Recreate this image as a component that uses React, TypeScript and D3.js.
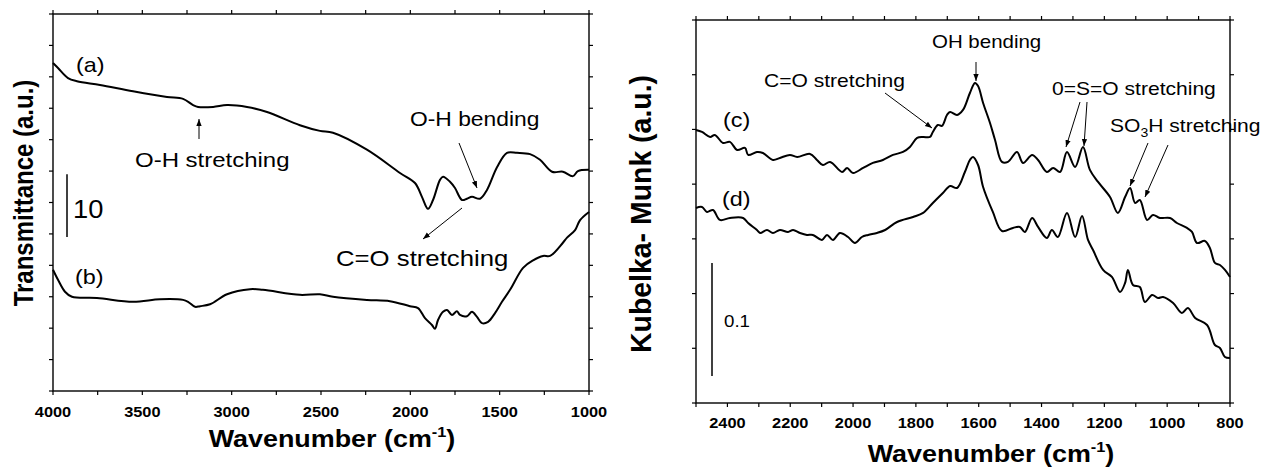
import React from "react";
import * as d3 from "d3";

// ---------- Left panel data: FTIR transmittance (a.u.) ----------
const wnA = [4000, 3972, 3916, 3866, 3737, 3552, 3362, 3272, 3216, 3188, 3104, 3026, 2914, 2802, 2618, 2506, 2433, 2243, 2058, 1974, 1935, 1901, 1873, 1834, 1817, 1778, 1750, 1711, 1683, 1655, 1610, 1571, 1515, 1459, 1403, 1330, 1274, 1207, 1146, 1090, 1062, 1000];
const tA = [52.2, 51.4, 49.8, 49.3, 48.7, 47.7, 46.8, 46.5, 45.5, 45.2, 45.2, 45.5, 45.2, 44.4, 42.3, 41.4, 41.1, 38.4, 34.7, 33.1, 30.9, 29.0, 30.4, 33.6, 34.1, 33.3, 32.3, 30.4, 30.6, 30.9, 30.6, 32.0, 35.6, 37.9, 37.9, 37.7, 36.8, 34.9, 34.9, 34.2, 35.0, 35.2];

const wnB = [4000, 3972, 3933, 3894, 3754, 3552, 3401, 3272, 3244, 3205, 3177, 3121, 3026, 2897, 2825, 2618, 2506, 2433, 2243, 2114, 2002, 1957, 1918, 1879, 1862, 1845, 1817, 1795, 1767, 1739, 1722, 1683, 1655, 1627, 1599, 1565, 1526, 1487, 1442, 1369, 1313, 1257, 1218, 1146, 1123, 1078, 1050, 1000];
const tB = [19.3, 17.7, 15.8, 15.0, 14.8, 14.2, 14.6, 14.5, 14.2, 13.4, 13.5, 13.8, 15.4, 16.2, 16.1, 15.3, 15.4, 15.0, 14.5, 14.3, 13.5, 13.2, 11.6, 10.5, 9.9, 11.3, 12.6, 12.9, 12.1, 12.7, 12.1, 11.9, 12.6, 11.8, 10.8, 11.0, 12.4, 14.2, 16.1, 19.6, 20.8, 21.5, 21.5, 23.6, 24.4, 25.6, 27.2, 28.5];

// ---------- Right panel data: Kubelka-Munk (a.u.) ----------
const wnC = [2500, 2481, 2455, 2440, 2414, 2392, 2369, 2344, 2334, 2306, 2287, 2255, 2233, 2201, 2178, 2137, 2115, 2096, 2073, 2035, 2019, 2000, 1968, 1937, 1905, 1873, 1841, 1819, 1796, 1777, 1755, 1746, 1730, 1717, 1701, 1691, 1669, 1650, 1628, 1612, 1602, 1586, 1564, 1548, 1526, 1507, 1478, 1459, 1430, 1411, 1383, 1363, 1341, 1319, 1293, 1268, 1246, 1220, 1182, 1157, 1134, 1118, 1102, 1087, 1064, 1045, 1023, 991, 969, 937, 921, 905, 880, 864, 848, 832, 816, 800];
const kmC = [0.2495, 0.2477, 0.2431, 0.2450, 0.2376, 0.2386, 0.2312, 0.2331, 0.2267, 0.2294, 0.2285, 0.2221, 0.2239, 0.2267, 0.2248, 0.2276, 0.2221, 0.2175, 0.2203, 0.2111, 0.2148, 0.2102, 0.2148, 0.2194, 0.2221, 0.2267, 0.2294, 0.2340, 0.2422, 0.2431, 0.2431, 0.2477, 0.2541, 0.2532, 0.2632, 0.2660, 0.2632, 0.2678, 0.2833, 0.2925, 0.2897, 0.2742, 0.2559, 0.2404, 0.2203, 0.2203, 0.2294, 0.2194, 0.2267, 0.2221, 0.2111, 0.2148, 0.2111, 0.2294, 0.2157, 0.2340, 0.2130, 0.2020, 0.1883, 0.1737, 0.1883, 0.1965, 0.1828, 0.1855, 0.1673, 0.1718, 0.1691, 0.1691, 0.1645, 0.1600, 0.1563, 0.1462, 0.1481, 0.1417, 0.1280, 0.1261, 0.1216, 0.1152];

const wnD = [2500, 2481, 2465, 2446, 2424, 2392, 2350, 2334, 2306, 2296, 2274, 2255, 2233, 2207, 2191, 2169, 2147, 2128, 2099, 2083, 2064, 2042, 2016, 1994, 1972, 1952, 1924, 1898, 1860, 1809, 1777, 1746, 1714, 1691, 1669, 1644, 1628, 1618, 1602, 1586, 1555, 1526, 1491, 1469, 1453, 1430, 1411, 1383, 1367, 1348, 1319, 1293, 1271, 1252, 1236, 1204, 1176, 1150, 1134, 1125, 1109, 1087, 1071, 1048, 1029, 1013, 981, 953, 934, 911, 873, 848, 832, 816, 800];
const kmD = [0.1782, 0.1791, 0.1746, 0.1764, 0.1673, 0.1691, 0.1691, 0.1645, 0.1581, 0.1554, 0.1581, 0.1554, 0.1581, 0.1563, 0.1581, 0.1554, 0.1536, 0.1536, 0.1490, 0.1536, 0.1490, 0.1554, 0.1517, 0.1462, 0.1517, 0.1536, 0.1554, 0.1581, 0.1654, 0.1700, 0.1737, 0.1828, 0.1919, 0.1983, 0.1965, 0.2111, 0.2221, 0.2248, 0.2175, 0.1974, 0.1746, 0.1572, 0.1600, 0.1609, 0.1563, 0.1691, 0.1609, 0.1508, 0.1581, 0.1517, 0.1737, 0.1517, 0.1709, 0.1490, 0.1398, 0.1216, 0.1152, 0.1015, 0.1097, 0.1216, 0.1079, 0.1060, 0.0923, 0.0987, 0.0960, 0.0969, 0.0914, 0.0823, 0.0868, 0.0777, 0.0713, 0.0530, 0.0503, 0.0420, 0.0411];

// ---------- Tick labels ----------
const leftXTickLabels = [4000, 3500, 3000, 2500, 2000, 1500, 1000];
const rightXTickLabels = [2400, 2200, 2000, 1800, 1600, 1400, 1200, 1000, 800];

const FONT = "'Liberation Sans', Arial, Helvetica, sans-serif";
const SX = 1.17;

function T({ x, y, size, bold = false, anchor = "start", sx = SX, children }: any) {
  return (
    <text
      transform={`translate(${x},${y}) scale(${sx},1)`}
      fontSize={size}
      fontWeight={bold ? "bold" : "normal"}
      textAnchor={anchor}
      fontFamily={FONT}
      fill="#000"
    >
      {children}
    </text>
  );
}

function Arrow({ x1, y1, x2, y2 }: any) {
  return <line x1={x1} y1={y1} x2={x2} y2={y2} stroke="#000" strokeWidth={1} markerEnd="url(#ah)" />;
}

export default function App() {
  // Left panel scales
  const L = { l: 53, r: 589, t: 14, b: 391 };
  const xL = d3.scaleLinear().domain([4000, 1000]).range([L.l, L.r]);
  const yL = d3.scaleLinear().domain([0, 60]).range([L.b, L.t]);
  // Right panel scales
  const R = { l: 696, r: 1230, t: 20, b: 403 };
  const xR = d3.scaleLinear().domain([2500, 800]).range([R.l, R.r]);
  const yR = d3.scaleLinear().domain([0, 0.35]).range([R.b, R.t]);

  const lineL = d3
    .line<[number, number]>()
    .x((d) => xL(d[0]))
    .y((d) => yL(d[1]))
    .curve(d3.curveCatmullRom.alpha(0.5));
  const lineR = d3
    .line<[number, number]>()
    .x((d) => xR(d[0]))
    .y((d) => yR(d[1]))
    .curve(d3.curveCatmullRom.alpha(0.5));

  const zip = (a: number[], b: number[]) => a.map((v, i) => [v, b[i]] as [number, number]);

  const leftXTicks = d3.range(1000, 4001, 250);
  const leftYTicks = d3.range(0, 60.001, 5);
  const rightXTicks = d3.range(800, 2501, 100);
  const rightYTicks = d3.range(0, 0.3501, 0.05);

  const tk = 4;
  const frame = (P: any) => (
    <rect x={P.l} y={P.t} width={P.r - P.l} height={P.b - P.t} fill="none" stroke="#000" strokeWidth={1.4} />
  );

  return (
    <svg
      width={1267}
      height={469}
      style={{ position: "absolute", left: 0, top: 0, background: "#fff" }}
      xmlns="http://www.w3.org/2000/svg"
    >
      <defs>
        <marker id="ah" viewBox="0 0 10 10" refX="10" refY="5" markerWidth="7" markerHeight="7" orient="auto" markerUnits="userSpaceOnUse">
          <path d="M0,1.2 L10,5 L0,8.8 z" fill="#000" />
        </marker>
      </defs>
      <rect x={0} y={0} width={1267} height={469} fill="#fff" />

      {/* ================= LEFT PANEL ================= */}
      <g>
        {leftXTicks.map((v) => (
          <g key={"lx" + v}>
            <line x1={xL(v)} x2={xL(v)} y1={L.b} y2={L.b + tk} stroke="#000" strokeWidth={1.2} />
            <line x1={xL(v)} x2={xL(v)} y1={L.t} y2={L.t - tk} stroke="#000" strokeWidth={1.2} />
          </g>
        ))}
        {leftYTicks.map((v) => (
          <g key={"ly" + v}>
            <line x1={L.l} x2={L.l - tk} y1={yL(v)} y2={yL(v)} stroke="#000" strokeWidth={1.2} />
            <line x1={L.r} x2={L.r + tk} y1={yL(v)} y2={yL(v)} stroke="#000" strokeWidth={1.2} />
          </g>
        ))}
        {frame(L)}
        {leftXTickLabels.map((v) => (
          <T key={"lxl" + v} x={xL(v)} y={417} size={14} bold anchor="middle">
            {v}
          </T>
        ))}
        <T x={332} y={447} size={23} bold anchor="middle">
          Wavenumber (cm
          <tspan fontSize={14} dy={-10}>-1</tspan>
          <tspan dy={10}>)</tspan>
        </T>
        <text
          transform={`translate(33,193) scale(${SX},1) rotate(-90)`}
          fontSize={24}
          fontWeight="bold"
          textAnchor="middle"
          fontFamily={FONT}
        >
          Transmittance (a.u.)
        </text>

        <path d={lineL(zip(wnA, tA)) || ""} fill="none" stroke="#000" strokeWidth={2} strokeLinejoin="round" />
        <path d={lineL(zip(wnB, tB)) || ""} fill="none" stroke="#000" strokeWidth={2} strokeLinejoin="round" />

        <T x={76} y={72} size={20}>(a)</T>
        <T x={75} y={284} size={20}>(b)</T>

        <T x={135} y={167} size={20.5}>O-H stretching</T>
        <Arrow x1={199} y1={139} x2={199} y2={119} />

        <T x={410} y={126} size={19.5}>O-H bending</T>
        <Arrow x1={459} y1={143} x2={477} y2={188} />

        <T x={336} y={266} size={22}>C=O stretching</T>
        <Arrow x1={462} y1={208} x2={423} y2={239} />

        {/* scale bar: 10 units of transmittance */}
        <line x1={67} x2={67} y1={yL(34.5)} y2={yL(24.5)} stroke="#000" strokeWidth={1.5} />
        <T x={73} y={218} size={26} sx={1.05}>10</T>
      </g>

      {/* ================= RIGHT PANEL ================= */}
      <g>
        {rightXTicks.map((v) => (
          <g key={"rx" + v}>
            <line x1={xR(v)} x2={xR(v)} y1={R.b} y2={R.b + tk} stroke="#000" strokeWidth={1.2} />
            <line x1={xR(v)} x2={xR(v)} y1={R.t} y2={R.t - tk} stroke="#000" strokeWidth={1.2} />
          </g>
        ))}
        {rightYTicks.map((v, i) => (
          <g key={"ry" + i}>
            <line x1={R.l} x2={R.l - tk} y1={yR(v)} y2={yR(v)} stroke="#000" strokeWidth={1.2} />
            <line x1={R.r} x2={R.r + tk} y1={yR(v)} y2={yR(v)} stroke="#000" strokeWidth={1.2} />
          </g>
        ))}
        {frame(R)}
        {rightXTickLabels.map((v) => (
          <T key={"rxl" + v} x={xR(v)} y={428} size={14} bold anchor="middle">
            {v}
          </T>
        ))}
        <T x={991} y={462} size={23} bold anchor="middle">
          Wavenumber (cm
          <tspan fontSize={14} dy={-10}>-1</tspan>
          <tspan dy={10}>)</tspan>
        </T>
        <text
          transform={`translate(651,214) scale(${SX},1) rotate(-90)`}
          fontSize={24.5}
          fontWeight="bold"
          textAnchor="middle"
          fontFamily={FONT}
          textLength={278}
          lengthAdjust="spacingAndGlyphs"
        >
          Kubelka- Munk (a.u.)
        </text>

        <path d={lineR(zip(wnC, kmC)) || ""} fill="none" stroke="#000" strokeWidth={2} strokeLinejoin="round" />
        <path d={lineR(zip(wnD, kmD)) || ""} fill="none" stroke="#000" strokeWidth={2} strokeLinejoin="round" />

        <T x={723} y={127} size={20}>(c)</T>
        <T x={722} y={206} size={20}>(d)</T>

        <T x={932} y={48} size={17.5}>OH bending</T>
        <Arrow x1={976} y1={62} x2={976} y2={81} />

        <T x={764} y={87} size={18}>C=O stretching</T>
        <Arrow x1={885} y1={93} x2={932} y2={128} />

        <T x={1052} y={95} size={18}>0=S=O stretching</T>
        <Arrow x1={1080} y1={102} x2={1066} y2={147} />
        <Arrow x1={1087} y1={102} x2={1084} y2={146} />

        <T x={1110} y={132} size={18}>
          SO<tspan fontSize={12} dy={5}>3</tspan>
          <tspan dy={-5}>H stretching</tspan>
        </T>
        <Arrow x1={1148} y1={143} x2={1130} y2={186} />
        <Arrow x1={1168} y1={145} x2={1145} y2={197} />

        {/* scale bar 0.1 */}
        <line x1={712} x2={712} y1={263} y2={376} stroke="#000" strokeWidth={1.5} />
        <T x={724} y={327} size={16}>0.1</T>
      </g>
    </svg>
  );
}
